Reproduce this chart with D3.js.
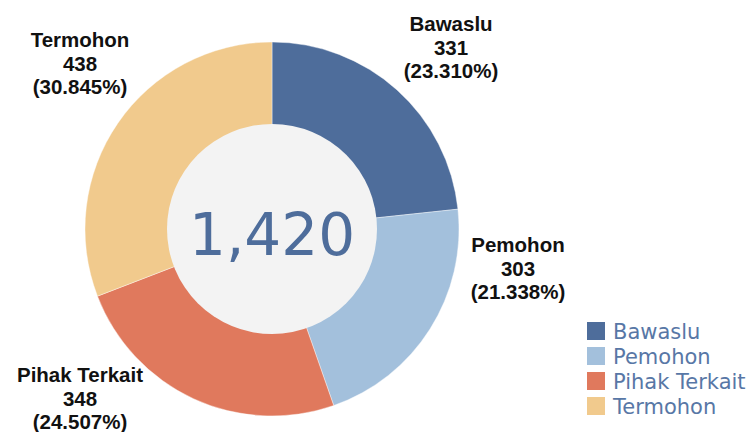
<!DOCTYPE html>
<html>
<head>
<meta charset="utf-8">
<script src="https://cdn.jsdelivr.net/npm/d3@7"></script>
<style>
  body { margin: 0; background: #fff; }
  .label { font-family: "Liberation Sans", Arial, sans-serif; font-weight: bold; font-size: 20.5px; fill: #111; }
  .legend text { font-family: "DejaVu Sans", Verdana, sans-serif; font-size: 21px; fill: #5877a6; }
  .total { font-family: "DejaVu Sans", Verdana, sans-serif; font-size: 58px; fill: #4e6d9b; }
</style>
</head>
<body>
<div id="vis"></div>
<script>
// Data
var categories = ['Bawaslu', 'Pemohon', 'Pihak Terkait', 'Termohon'];
var counts = [331, 303, 348, 438];
var percents = ['23.310%', '21.338%', '24.507%', '30.845%'];
var colors = ['#4e6d9b', '#a3c0dc', '#e0795d', '#f1ca8d'];

// Layout
var width = 750;
var height = 432;
var cx = 272, cy = 229;
var outerR = 187, innerR = 105;

// label anchor points (centre of each 3-line label, first baseline)
var labelPos = [[451, 31], [518, 252], [80, 382], [80, 47]];

var svg = d3.select('#vis')
    .append('svg')
    .attr('width', width)
    .attr('height', height);

var data = categories.map(function(c, i) {
    return { name: c, value: counts[i], pct: percents[i], color: colors[i] };
});

var pie = d3.pie()
    .sort(null)
    .value(function(d) { return d.value; });

var arc = d3.arc()
    .innerRadius(0)
    .outerRadius(outerR);

var g = svg.append('g')
    .attr('transform', 'translate(' + cx + ',' + cy + ')');

g.selectAll('path')
    .data(pie(data))
    .enter().append('path')
    .attr('d', arc)
    .attr('fill', function(d) { return d.data.color; })
    .attr('stroke', '#fff')
    .attr('stroke-opacity', 0.5)
    .attr('stroke-width', 0.8);

// inner hole
g.append('circle')
    .attr('r', innerR)
    .attr('fill', '#f3f3f3');

var total = d3.sum(counts);
g.append('text')
    .attr('class', 'total')
    .attr('text-anchor', 'middle')
    .attr('y', 26)
    .text(d3.format(',')(total));

// slice labels
var labels = svg.selectAll('.label')
    .data(data)
    .enter().append('text')
    .attr('class', 'label')
    .attr('text-anchor', 'middle')
    .attr('transform', function(d, i) {
        return 'translate(' + labelPos[i][0] + ',' + labelPos[i][1] + ')';
    });

labels.each(function(d) {
    var t = d3.select(this);
    t.append('tspan').attr('x', 0).attr('y', 0).text(d.name);
    t.append('tspan').attr('x', 0).attr('y', 23.5).text(d.value);
    t.append('tspan').attr('x', 0).attr('y', 47).text('(' + d.pct + ')');
});

// legend
var legend = svg.append('g')
    .attr('class', 'legend')
    .attr('transform', 'translate(587,322)');

var items = legend.selectAll('g')
    .data(data)
    .enter().append('g')
    .attr('transform', function(d, i) { return 'translate(0,' + (i * 25) + ')'; });

items.append('rect')
    .attr('width', 18)
    .attr('height', 18)
    .attr('fill', function(d) { return d.color; });

items.append('text')
    .attr('x', 26)
    .attr('y', 16.5)
    .text(function(d) { return d.name; });
</script>
</body>
</html>
